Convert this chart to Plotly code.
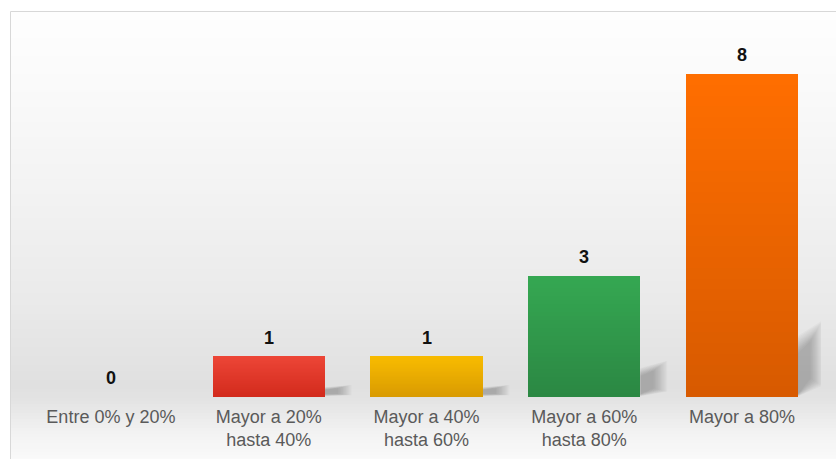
import plotly.graph_objects as go

# ---- data ----
categories = ["Entre 0% y 20%", "Mayor a 20%<br>hasta 40%", "Mayor a 40%<br>hasta 60%",
              "Mayor a 60%<br>hasta 80%", "Mayor a 80%"]
values = [0, 1, 1, 3, 8]
# bar colours: (bottom, top) of the vertical gradient
bar_bottom = ["#3b78d8", "#d22a1c", "#d89a02", "#2b8743", "#d75a00"]
bar_top = ["#4a86e8", "#ec4536", "#f8bb00", "#35a852", "#ff6e00"]

W, H = 836, 459
M_L, M_R, M_T, M_B = 32, 15, 12, 62
PLOT_H = H - M_T - M_B
PX_PER_UNIT = 40.375
Y_MAX = PLOT_H / PX_PER_UNIT
BAR_W = 0.71
N_SEG = 30


def hex_to_rgb(h):
    h = h.lstrip("#")
    return tuple(int(h[i:i + 2], 16) for i in (0, 2, 4))


def mix(c1, c2, t):
    a, b = hex_to_rgb(c1), hex_to_rgb(c2)
    return "rgb(%d,%d,%d)" % tuple(round(a[i] + (b[i] - a[i]) * t) for i in range(3))


fig = go.Figure()
xs = list(range(len(categories)))

# gradient-filled bars: each bar is stacked from thin slices of its own value
for k in range(N_SEG):
    cols = [mix(bar_bottom[i], bar_top[i], (k + 0.5) / N_SEG) for i in xs]
    fig.add_trace(go.Bar(
        x=xs, y=[v / N_SEG for v in values], base=[v * k / N_SEG for v in values],
        width=BAR_W, marker=dict(color=cols, line=dict(width=0)),
        hoverinfo="skip", showlegend=False,
    ))

# value labels above each bar
for i, v in zip(xs, values):
    fig.add_annotation(x=i, y=v, text=str(v), showarrow=False, yanchor="bottom", yshift=7,
                       font=dict(family="Arial, Liberation Sans", size=18, color="#111111",
                                 weight="bold"))

shapes = []
# background: vertical grey gradient inside a light frame
plot_w = W - M_L - M_R


def px_to_paper_x(px):
    return (px - M_L) / plot_w


def py_to_paper_y(py):
    return (H - M_B - py) / PLOT_H


stops = [(11, 254), (100, 249), (200, 242), (300, 234), (385, 224), (400, 227),
         (430, 241), (459, 250)]


def grey_at(py):
    for (y0, g0), (y1, g1) in zip(stops, stops[1:]):
        if y0 <= py <= y1:
            return g0 + (g1 - g0) * (py - y0) / (y1 - y0)
    return stops[-1][1]


step = 3
py = 11
while py < H:
    g = round(grey_at(py + step / 2))
    shapes.append(dict(type="rect", xref="paper", yref="paper", layer="below",
                       x0=px_to_paper_x(10), x1=px_to_paper_x(W + 2),
                       y0=py_to_paper_y(py + step + 0.5), y1=py_to_paper_y(py),
                       fillcolor="rgb(%d,%d,%d)" % (g, g, g), line=dict(width=0)))
    py += step
shapes.append(dict(type="rect", xref="paper", yref="paper", layer="below",
                   x0=px_to_paper_x(10.5), x1=px_to_paper_x(W + 5),
                   y0=py_to_paper_y(H + 5), y1=py_to_paper_y(11.5),
                   fillcolor="rgba(0,0,0,0)", line=dict(color="#d8d8d8", width=1)))

# soft drop shadows to the right of the bars, built from stacked translucent layers
N_BLUR = 12
for i, v in zip(xs, values):
    if v <= 0:
        continue
    right = i + BAR_W / 2
    sh = min(v * 0.3, 1.9)
    dx = 0.17 if v < 5 else 0.155
    for j in range(N_BLUR):
        t = j / N_BLUR
        x1 = right + dx * (1 - 0.55 * t)
        yb_l = 0.02 + 0.06 * t
        yb_r = sh * (0.15 + 0.1 * t)
        yt_r = sh * (1 - 0.3 * t)
        yt_l = sh * (0.8 - 0.25 * t)
        shapes.append(dict(type="path", xref="x", yref="y", layer="below",
                           path=f"M {right},{yb_l} L {x1},{yb_r} L {x1},{yt_r} L {right},{yt_l} Z",
                           fillcolor="rgba(70,70,70,0.032)", line=dict(width=0)))

fig.update_layout(
    width=W, height=H,
    margin=dict(l=M_L, r=M_R, t=M_T, b=M_B, autoexpand=False),
    paper_bgcolor="white", plot_bgcolor="rgba(0,0,0,0)",
    barmode="overlay", bargap=0,
    shapes=shapes,
    xaxis=dict(range=[-0.5, len(categories) - 0.5], tickvals=xs, ticktext=categories,
               showgrid=False, zeroline=False, showline=False, ticks="",
               ticklabelstandoff=7, automargin=False,
               tickfont=dict(family="Arial, Liberation Sans", size=18, color="#5a5a5a"),
               fixedrange=True),
    yaxis=dict(range=[0, Y_MAX], visible=False, fixedrange=True, automargin=False),
)

fig.write_html("out.html")
